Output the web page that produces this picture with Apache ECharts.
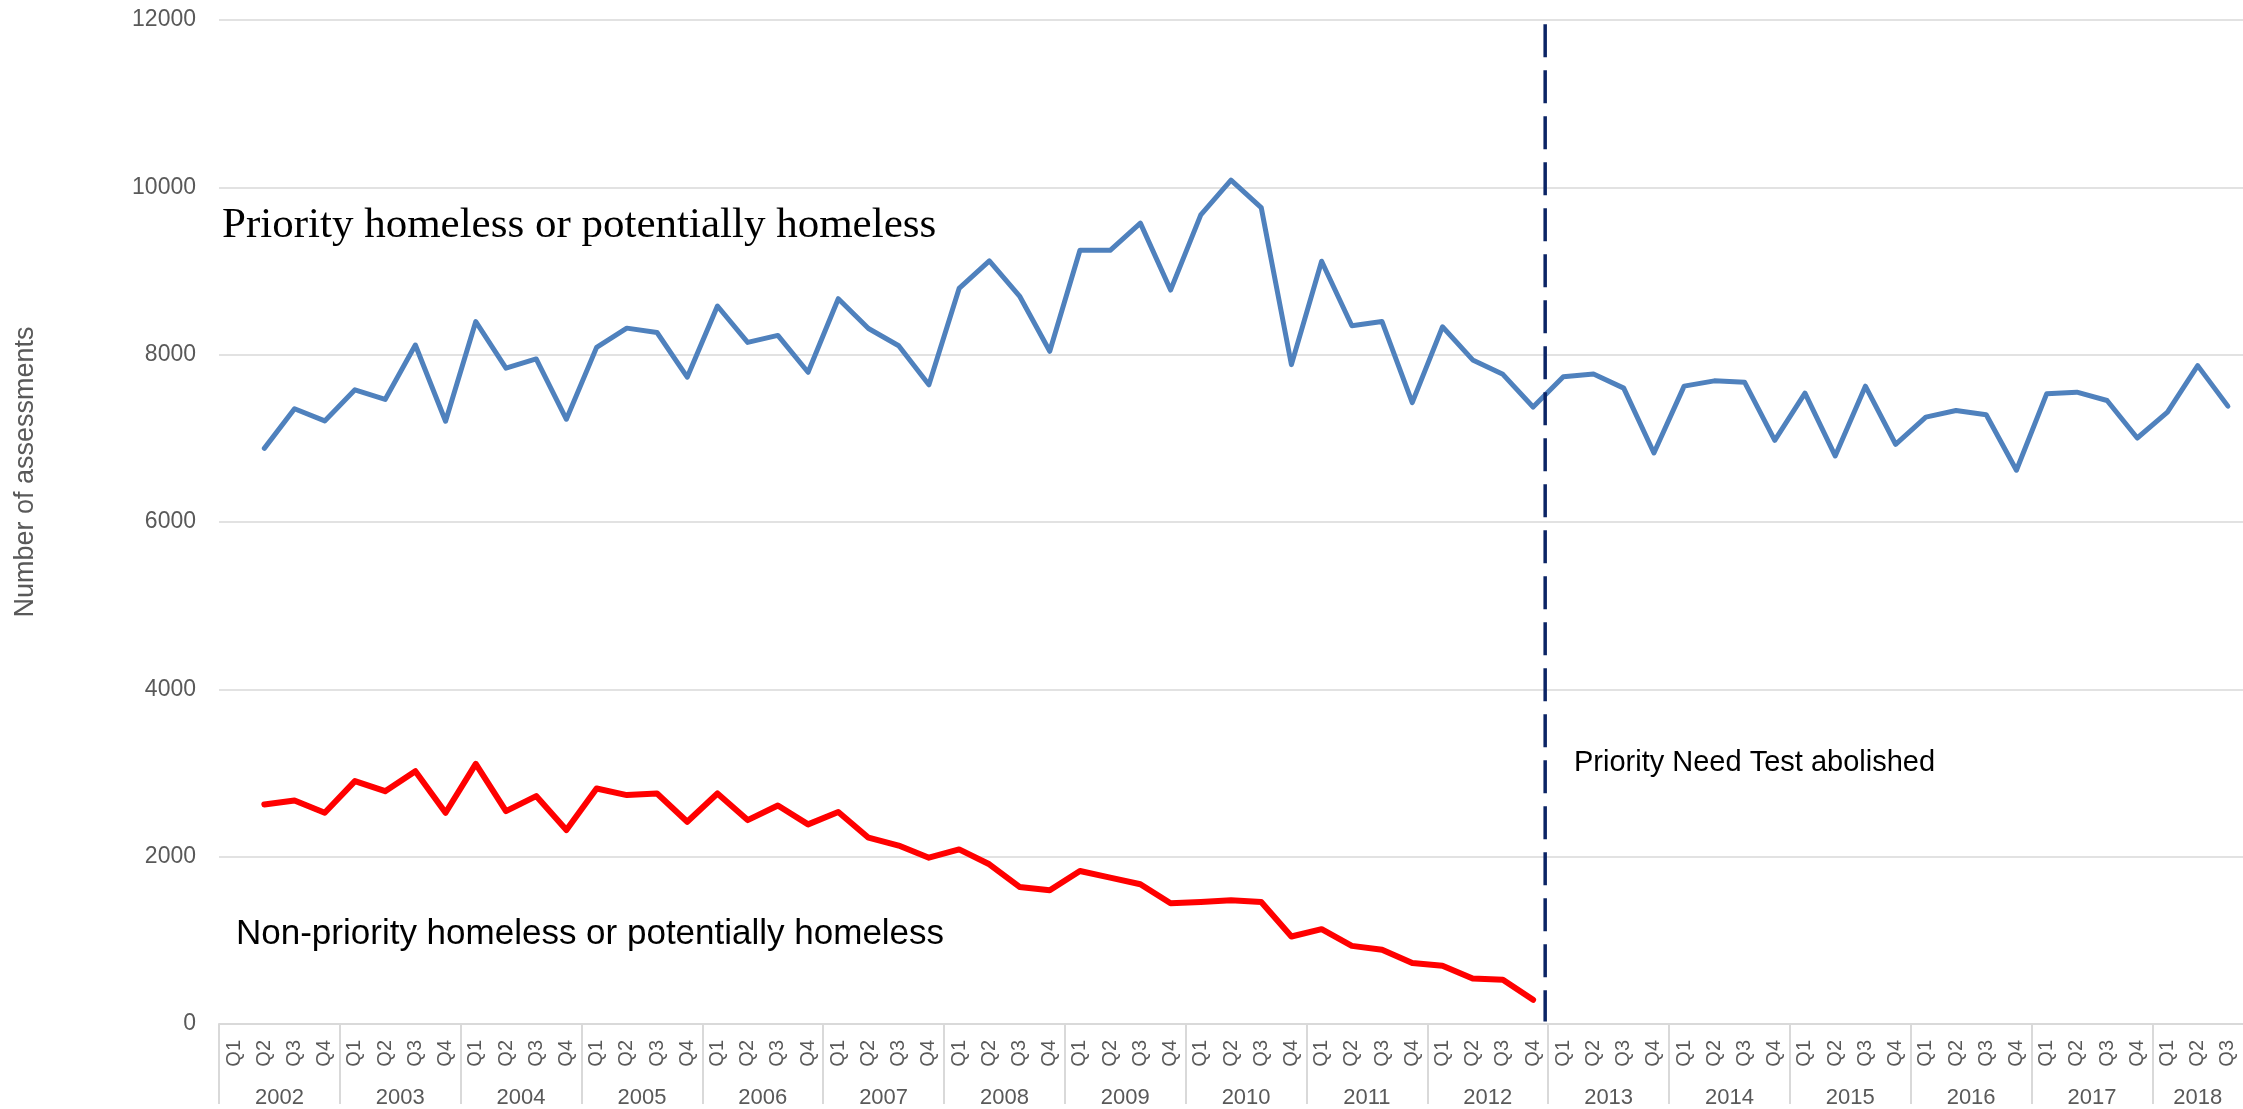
<!DOCTYPE html>
<html>
<head>
<meta charset="utf-8">
<script src="https://cdn.jsdelivr.net/npm/echarts@6/dist/echarts.min.js"></script>
<style>
html,body{margin:0;padding:0;background:#fff;}
#chart{width:2243px;height:1109px;}
</style>
</head>
<body>
<div id="chart"></div>
<script>
// ---- data ----
const years = ['2002','2003','2004','2005','2006','2007','2008','2009','2010','2011','2012','2013','2014','2015','2016','2017','2018'];
const quarters = ['Q1','Q2','Q3','Q4'];
const quartersInLastYear = 3;
const yTicks = [0, 2000, 4000, 6000, 8000, 10000, 12000];

const priority = [
  null, 6880, 7354, 7208,
  7580, 7465, 8115, 7204,
  8396, 7838, 7949, 7228,
  8087, 8317, 8265, 7731,
  8582, 8147, 8230, 7790,
  8669, 8313, 8107, 7640,
  8792, 9121, 8701, 8040,
  9247, 9247, 9572, 8772,
  9671, 10087, 9758, 7881,
  9117, 8345, 8396, 7426,
  8333, 7937, 7765, 7374,
  7736, 7768, 7600, 6825,
  7624, 7687, 7671, 6976,
  7540, 6790, 7623, 6929,
  7254, 7333, 7282, 6619,
  7532, 7552, 7452, 7004,
  7313, 7869, 7385
];
const nonPriority = [
  null, 2624, 2672, 2525,
  2903, 2783, 3022, 2525,
  3109, 2545, 2724, 2318,
  2815, 2736, 2755, 2417,
  2755, 2437, 2612, 2386,
  2533, 2227, 2133, 1988,
  2087, 1909, 1638, 1598,
  1829, 1750, 1670, 1443,
  1459, 1479, 1459, 1046,
  1133, 934, 887, 728,
  696, 545, 529, 290
];
// position (in quarter units from the start) of the "Priority Need Test abolished" line
const abolishedAt = 43.9;
const abolishedRange = [11950, 30];

const seriesNames = ['Priority homeless or potentially homeless', 'Non-priority homeless or potentially homeless'];
const annotation = 'Priority Need Test abolished';
const yAxisTitle = 'Number of assessments';

// ---- derived ----
const categories = [];
years.forEach((y, yi) => {
  const n = yi === years.length - 1 ? quartersInLastYear : 4;
  for (let q = 0; q < n; q++) categories.push(y + ' ' + quarters[q]);
});
const nCat = categories.length;
const yearTicks = [];
const yearLabelPos = [];
let start = 0;
years.forEach((y, yi) => {
  const n = yi === years.length - 1 ? quartersInLastYear : 4;
  yearTicks.push(start);
  yearLabelPos.push(start + n / 2);
  start += n;
});

const chart = echarts.init(document.getElementById('chart'), null, {renderer: 'canvas'});
const gray = '#595959';
const gridGray = '#d9d9d9';

const option = {
  animation: false,
  backgroundColor: '#fff',
  textStyle: {fontFamily: 'Liberation Sans'},
  grid: {left: 219, right: 0, top: 20, bottom: 82, containLabel: false},
  xAxis: [
    {
      type: 'category',
      data: categories,
      position: 'bottom',
      boundaryGap: true,
      axisLine: {show: false},
      axisTick: {show: false},
      axisLabel: {
        interval: 0, rotate: 90, margin: 16, fontSize: 20, color: gray,
        formatter: v => v.split(' ')[1]
      },
      splitLine: {show: false}
    },
    {
      type: 'value',
      position: 'bottom',
      min: 0, max: nCat,
      axisLine: {show: true, lineStyle: {color: gridGray, width: 2}},
      axisTick: {show: true, customValues: yearTicks, length: 80, inside: false, lineStyle: {color: gridGray, width: 2}},
      axisLabel: {
        show: true, customValues: yearLabelPos, margin: 63, fontSize: 22, color: gray,
        formatter: v => years[Math.floor(v / 4)] || ''
      },
      splitLine: {show: false}
    }
  ],
  yAxis: {
    type: 'value',
    min: 0, max: 12000, interval: 2000,
    axisLine: {show: false},
    axisTick: {show: false},
    axisLabel: {fontSize: 23, color: gray, margin: 23, formatter: v => yTicks.includes(v) ? String(v) : ''},
    splitLine: {show: true, lineStyle: {color: gridGray, width: 1.5}}
  },
  series: [
    {
      name: seriesNames[0], type: 'line', xAxisIndex: 0, data: priority,
      symbol: 'none', connectNulls: false,
      lineStyle: {color: '#4f81bd', width: 5, cap: 'round', join: 'round'}
    },
    {
      name: seriesNames[1], type: 'line', xAxisIndex: 0, data: nonPriority,
      symbol: 'none',
      lineStyle: {color: '#ff0000', width: 6, cap: 'round', join: 'round'}
    },
    {
      name: annotation, type: 'line', xAxisIndex: 1,
      data: [[abolishedAt, abolishedRange[0]], [abolishedAt, abolishedRange[1]]],
      symbol: 'none',
      lineStyle: {color: '#0b2465', width: 3.5, type: [33, 13]}
    }
  ],
  graphic: [
    {
      type: 'text', x: 222, y: 226,
      style: {text: seriesNames[0], font: '43px "Liberation Serif"', fill: '#000', align: 'left', verticalAlign: 'middle'}
    },
    {
      type: 'text', x: 236, y: 934,
      style: {text: seriesNames[1], font: '35px "Liberation Sans"', fill: '#000', align: 'left', verticalAlign: 'middle'}
    },
    {
      type: 'text', x: 1574, y: 763,
      style: {text: annotation, font: '29px "Liberation Sans"', fill: '#000', align: 'left', verticalAlign: 'middle'}
    },
    {
      type: 'text', x: 26, y: 472, rotation: Math.PI / 2,
      style: {text: yAxisTitle, font: '27px "Liberation Sans"', fill: gray, align: 'center', verticalAlign: 'middle'}
    }
  ]
};
chart.setOption(option);
</script>
</body>
</html>
